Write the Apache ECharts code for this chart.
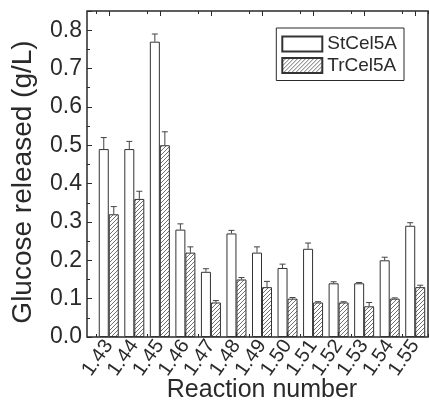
<!DOCTYPE html>
<html>
<head>
<meta charset="utf-8">
<script src="https://cdn.jsdelivr.net/npm/echarts@6/dist/echarts.min.js"></script>
<style>
  html, body { margin: 0; padding: 0; background: #fff; }
  #chart { width: 429px; height: 402px; }
</style>
</head>
<body>
<div id="chart"></div>
<script>
// Reaction numbers on the x axis
var categories = ['1.43', '1.44', '1.45', '1.46', '1.47', '1.48', '1.49',
                  '1.50', '1.51', '1.52', '1.53', '1.54', '1.55'];
// Glucose released (g/L) and the upper error bar size
var stCel5A    = [0.49, 0.49, 0.77, 0.28, 0.17, 0.27, 0.22, 0.18, 0.23, 0.14, 0.14, 0.20, 0.29];
var stCel5AErr = [0.03, 0.02, 0.02, 0.015, 0.008, 0.008, 0.015, 0.01, 0.015, 0.004, 0.002, 0.008, 0.008];
var trCel5A    = [0.32, 0.36, 0.50, 0.22, 0.09, 0.15, 0.13, 0.10, 0.09, 0.09, 0.08, 0.10, 0.13];
var trCel5AErr = [0.02, 0.02, 0.035, 0.015, 0.005, 0.005, 0.015, 0.003, 0.002, 0.002, 0.01, 0.002, 0.005];

var FONT = 'Liberation Sans, Arial, sans-serif';
var INK = '#2a2a2a';
var BAR_W = 10;

// diagonal hatch tile for the TrCel5A bars
function hatchTile() {
    var c = document.createElement('canvas');
    c.width = 4; c.height = 4;
    var g = c.getContext('2d');
    g.fillStyle = '#fff';
    g.fillRect(0, 0, 4, 4);
    g.strokeStyle = '#707070';
    g.lineWidth = 1;
    g.beginPath();
    g.moveTo(0, 4); g.lineTo(4, 0);
    g.moveTo(-1, 1); g.lineTo(1, -1);
    g.moveTo(3, 5); g.lineTo(5, 3);
    g.stroke();
    return c;
}

function errData(vals, errs) {
    return vals.map(function (v, i) { return [i, v, errs[i]]; });
}

function errSeries(vals, errs, dx) {
    return {
        type: 'custom',
        xAxisIndex: 0,
        yAxisIndex: 1,
        z: 5,
        silent: true,
        data: errData(vals, errs),
        encode: { x: 0, y: 1 },
        renderItem: function (params, api) {
            var i = api.value(0), v = api.value(1), e = api.value(2);
            var base = api.coord([i, v]);
            var top = api.coord([i, v + e]);
            var x = base[0] + dx;
            return {
                type: 'group',
                children: [
                    { type: 'line', shape: { x1: x, y1: base[1], x2: x, y2: top[1] },
                      style: { stroke: '#444', lineWidth: 1 } },
                    { type: 'line', shape: { x1: x - 3, y1: top[1], x2: x + 3, y2: top[1] },
                      style: { stroke: '#444', lineWidth: 1 } }
                ]
            };
        }
    };
}

var tickCat = function (pos, len, aligned, labels) {
    return {
        type: 'category',
        gridIndex: 1,
        position: pos,
        data: categories,
        axisLine: { show: false },
        axisTick: { show: true, inside: true, length: len, alignWithLabel: aligned,
                    lineStyle: { color: INK, width: 1 } },
        axisLabel: labels || { show: false },
        splitLine: { show: false }
    };
};

var chart = echarts.init(document.getElementById('chart'));
chart.setOption({
    animation: false,
    backgroundColor: '#fff',
    textStyle: { fontFamily: FONT },
    grid: [
        { left: 87, right: 1, top: 11, bottom: 65, show: true, outerBoundsMode: 'none',
          borderColor: INK, borderWidth: 1.5, backgroundColor: 'transparent' },
        { left: 96, right: 1, top: 11, bottom: 65, outerBoundsMode: 'none' }
    ],
    legend: {
        orient: 'vertical',
        right: 25,
        top: 28,
        padding: [6, 7, 5, 5],
        itemGap: 1.5,
        itemWidth: 40,
        itemHeight: 15,
        icon: 'rect',
        borderColor: INK,
        borderWidth: 1,
        textStyle: { fontFamily: FONT, fontSize: 19, lineHeight: 20, color: INK },
        data: ['StCel5A', 'TrCel5A']
    },
    xAxis: [
        Object.assign(tickCat('bottom', 5, true, {
            show: true, interval: 0, rotate: 55, margin: 5,
            fontFamily: FONT, fontSize: 20, color: INK
        }), {
            name: 'Reaction number',
            nameLocation: 'middle',
            nameGap: 41,
            nameMoveOverlap: false,
            nameTextStyle: { fontFamily: FONT, fontSize: 25, color: INK }
        }),
        tickCat('bottom', 3, false),
        tickCat('top', 5, true),
        tickCat('top', 3, false),
        // frame grid needs an x axis of its own
        { type: 'value', gridIndex: 0, min: 0, max: 1, show: false }
    ],
    yAxis: [
        {
            type: 'value',
            gridIndex: 0,
            min: 0,
            max: 0.85,
            interval: 0.1,
            name: 'Glucose released (g/L)',
            nameLocation: 'middle',
            nameGap: 50,
            nameMoveOverlap: false,
            nameTextStyle: { fontFamily: FONT, fontSize: 28, color: INK, padding: [0, 16, 0, 0] },
            axisLine: { show: false },
            axisTick: { show: true, inside: true, length: 5, lineStyle: { color: INK, width: 1 } },
            minorTick: { show: true, splitNumber: 2, length: 3, lineStyle: { color: INK, width: 1 } },
            axisLabel: {
                showMaxLabel: false,
                margin: 5,
                fontFamily: FONT, fontSize: 23, color: INK,
                formatter: function (v) { return v.toFixed(1); }
            },
            splitLine: { show: false }
        },
        {
            type: 'value',
            gridIndex: 1,
            min: 0,
            max: 0.85,
            show: false,
            splitLine: { show: false }
        }
    ],
    series: [
        {
            name: 'StCel5A',
            type: 'bar',
            xAxisIndex: 0,
            yAxisIndex: 1,
            barWidth: BAR_W,
            barGap: '0%',
            data: stCel5A,
            itemStyle: { color: '#fff', borderColor: '#333', borderWidth: 1 }
        },
        {
            name: 'TrCel5A',
            type: 'bar',
            xAxisIndex: 0,
            yAxisIndex: 1,
            barWidth: BAR_W,
            barGap: '0%',
            data: trCel5A,
            itemStyle: { color: { image: hatchTile(), repeat: 'repeat' },
                         borderColor: '#333', borderWidth: 1 }
        },
        errSeries(stCel5A, stCel5AErr, -BAR_W / 2),
        errSeries(trCel5A, trCel5AErr, BAR_W / 2)
    ]
});
</script>
</body>
</html>
